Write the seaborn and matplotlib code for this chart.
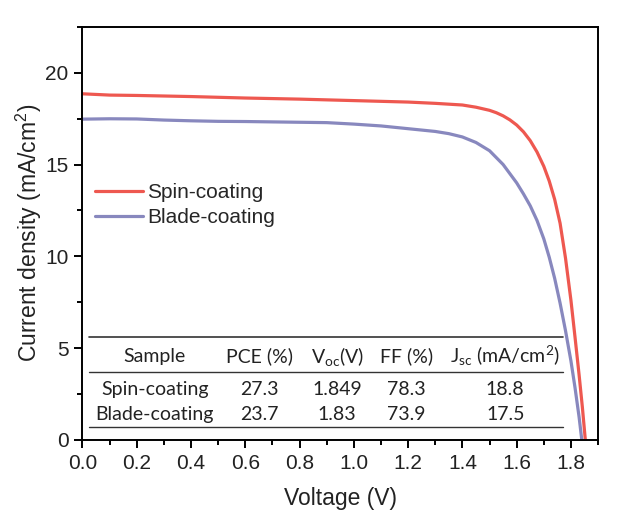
import numpy as np
import pandas as pd
import matplotlib
matplotlib.use("Agg")
import matplotlib.pyplot as plt
from matplotlib.ticker import MultipleLocator
import seaborn as sns

# J-V curves
spin_v = [0.0, 0.1, 0.2, 0.4, 0.6, 0.8, 1.0, 1.2, 1.3, 1.4, 1.45, 1.5, 1.525, 1.55, 1.575, 1.6, 1.625,
          1.65, 1.675, 1.70, 1.72, 1.74, 1.76, 1.78, 1.80, 1.815, 1.83, 1.842, 1.853]
spin_j = [18.85, 18.78, 18.76, 18.70, 18.62, 18.56, 18.48, 18.40, 18.33, 18.24, 18.12, 17.95, 17.82, 17.65, 17.43, 17.15, 16.78,
          16.3, 15.68, 14.9, 14.1, 13.1, 11.8, 9.9, 7.6, 5.6, 3.55, 1.8, 0.0]
blade_v = [0.0, 0.1, 0.2, 0.3, 0.4, 0.5, 0.6, 0.7, 0.8, 0.9, 1.0, 1.1, 1.2, 1.3, 1.35, 1.4, 1.45,
           1.5, 1.55, 1.6, 1.625, 1.65, 1.675, 1.70, 1.72, 1.74, 1.76, 1.78, 1.80, 1.815, 1.83, 1.84]
blade_j = [17.47, 17.49, 17.48, 17.42, 17.38, 17.35, 17.34, 17.32, 17.30, 17.28, 17.20, 17.10, 16.95, 16.80, 16.68, 16.50, 16.2,
           15.75, 15.0, 14.0, 13.4, 12.75, 11.95, 10.95, 9.95, 8.8, 7.45, 5.95, 4.3, 2.85, 1.25, 0.0]

samples = ["Spin-coating", "Blade-coating"]
colors = ["#EE5850", "#8888BE"]

# summary table
table_header = ["Sample", "PCE (%)", "V$_{oc}$(V)", "FF (%)", "J$_{sc}$ (mA/cm$^2$)"]
pce = ["27.3", "23.7"]
voc = ["1.849", "1.83"]
ff = ["78.3", "73.9"]
jsc = ["18.8", "17.5"]

df = pd.concat([
    pd.DataFrame({"V": spin_v, "J": spin_j, "sample": samples[0]}),
    pd.DataFrame({"V": blade_v, "J": blade_j, "sample": samples[1]}),
])

sns.set_theme(style="ticks")
plt.rcParams["font.family"] = ["Liberation Sans", "DejaVu Sans"]
plt.rcParams["mathtext.default"] = "regular"
plt.rcParams["axes.linewidth"] = 1.4

fig = plt.figure(figsize=(6.23, 5.25), dpi=100)
ax = fig.add_axes([0.1324, 0.162, 0.8276, 0.787])

sns.lineplot(data=df, x="V", y="J", hue="sample", hue_order=samples,
             palette=colors, sort=False, estimator=None, linewidth=2.3, ax=ax)

ax.set_xlim(0, 1.9)
ax.set_ylim(0, 22.5)
ax.xaxis.set_major_locator(MultipleLocator(0.2))
ax.xaxis.set_minor_locator(MultipleLocator(0.1))
ax.yaxis.set_major_locator(MultipleLocator(5))
ax.yaxis.set_minor_locator(MultipleLocator(2.5))
ax.tick_params(which="major", length=6, width=1.4, labelsize=15, color="black", labelcolor="#222222", pad=4)
ax.tick_params(which="minor", length=3.5, width=1.4, color="black")
ax.set_xticks(np.arange(0, 1.81, 0.2))
ax.set_xticklabels([f"{t:.1f}" for t in np.arange(0, 1.81, 0.2)])
for sp in ax.spines.values():
    sp.set_visible(True)
    sp.set_color("black")

ax.set_xlabel("Voltage (V)", fontsize=16.5, color="#222222", labelpad=10)
ax.set_ylabel("Current density (mA/cm$^2$)", fontsize=16.5, color="#222222")
ax.yaxis.set_label_coords(-0.074, 0.5)

leg = ax.legend(loc="upper left", bbox_to_anchor=(-0.012, 0.667), frameon=False,
                fontsize=15, handlelength=2.3, handletextpad=0.2, labelspacing=0.3)
for line in leg.get_lines():
    line.set_linewidth(2.3)

# table drawn inside the axes
tfont = dict(family=["Lato", "DejaVu Sans"], fontsize=14, color="#222222",
             ha="center", va="center", transform=ax.transAxes)
col_x = [0.140, 0.344, 0.494, 0.628, 0.820]
ax.plot([0.0126, 0.932], [0.25, 0.25], color="#333333", lw=1.2, transform=ax.transAxes)
ax.plot([0.0126, 0.932], [0.164, 0.164], color="#333333", lw=1.0, transform=ax.transAxes)
ax.plot([0.0126, 0.932], [0.031, 0.031], color="#333333", lw=1.0, transform=ax.transAxes)
for cx, txt in zip(col_x, table_header):
    ax.text(cx, 0.203, txt, **tfont)
for i, row_y in enumerate([0.123, 0.0605]):
    for cx, txt in zip(col_x, [samples[i], pce[i], voc[i], ff[i], jsc[i]]):
        ax.text(cx, row_y, txt, **tfont)

fig.savefig("out.png", dpi=100)
